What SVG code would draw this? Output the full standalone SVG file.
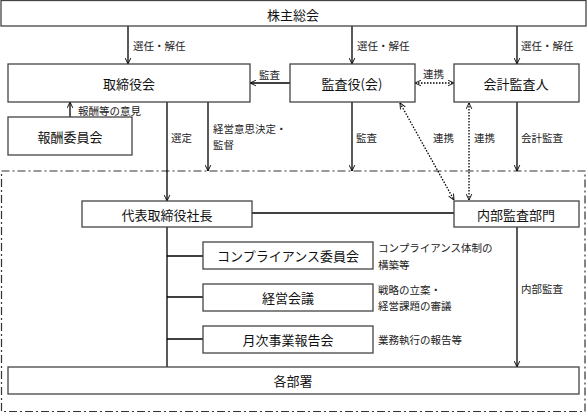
<svg xmlns="http://www.w3.org/2000/svg" width="587" height="413" viewBox="0 0 587 413">
<defs>
<marker id="ah" viewBox="0 0 10 10" refX="9.5" refY="5" markerWidth="7" markerHeight="7" orient="auto-start-reverse" markerUnits="userSpaceOnUse">
<path d="M1 1 L9.5 5 L1 9" fill="none" stroke="#000" stroke-width="1.3"/>
</marker>
</defs>
<style>
.box{fill:#fff;stroke:#444;stroke-width:1.3}
.t{font-family:"Noto Sans CJK JP","Noto Sans CJK SC",sans-serif;font-size:13px;fill:#111;text-anchor:middle;dominant-baseline:central}
.s{font-family:"Noto Sans CJK JP","Noto Sans CJK SC",sans-serif;font-size:10.5px;fill:#222;dominant-baseline:central}
.ln{stroke:#000;stroke-width:1.3;fill:none}
.dot{stroke:#000;stroke-width:1.3;fill:none;stroke-dasharray:1.5 1.5}
.bd{stroke:#333;stroke-width:1.2;fill:none;stroke-dasharray:8 3 2 3}
</style>
<rect class="bd" x="1.5" y="171" width="583.5" height="240.5"/>
<g id="connectors">
<line class="ln" x1="128" y1="26" x2="128" y2="64" marker-end="url(#ah)"/>
<line class="ln" x1="352" y1="26" x2="352" y2="64" marker-end="url(#ah)"/>
<line class="ln" x1="517" y1="26" x2="517" y2="64" marker-end="url(#ah)"/>
<line class="ln" x1="290" y1="83" x2="250" y2="83" marker-end="url(#ah)"/>
<line class="dot" x1="415" y1="83" x2="454" y2="83" marker-start="url(#ah)" marker-end="url(#ah)"/>
<line class="ln" x1="70" y1="117" x2="70" y2="102" marker-end="url(#ah)"/>
<line class="ln" x1="167" y1="102" x2="167" y2="201" marker-end="url(#ah)"/>
<line class="ln" x1="208" y1="102" x2="208" y2="171" marker-end="url(#ah)"/>
<line class="ln" x1="352" y1="102" x2="352" y2="171" marker-end="url(#ah)"/>
<line class="ln" x1="517" y1="102" x2="517" y2="171" marker-end="url(#ah)"/>
<line class="dot" x1="400" y1="103" x2="454" y2="200" marker-start="url(#ah)" marker-end="url(#ah)"/>
<line class="dot" x1="469" y1="103" x2="469" y2="200" marker-start="url(#ah)" marker-end="url(#ah)"/>
<line class="ln" x1="252" y1="213" x2="454" y2="213"/>
<line class="ln" x1="167" y1="227" x2="167" y2="367"/>
<line class="ln" x1="167" y1="256" x2="203" y2="256"/>
<line class="ln" x1="167" y1="297" x2="203" y2="297"/>
<line class="ln" x1="167" y1="339" x2="203" y2="339"/>
<line class="ln" x1="517" y1="227" x2="517" y2="367" marker-end="url(#ah)"/>
<text class="s" x="133" y="45">選任・解任</text>
<text class="s" x="357" y="45">選任・解任</text>
<text class="s" x="521" y="45">選任・解任</text>
<text class="s" x="259" y="74">監査</text>
<text class="s" x="423" y="73">連携</text>
<text class="s" x="78" y="110">報酬等の意見</text>
<text class="s" x="171" y="137">選定</text>
<text class="s" x="213" y="128">経営意思決定・</text>
<text class="s" x="213" y="144">監督</text>
<text class="s" x="356" y="137">監査</text>
<text class="s" x="433" y="137">連携</text>
<text class="s" x="474" y="137">連携</text>
<text class="s" x="521" y="137">会計監査</text>
<text class="s" x="521" y="288">内部監査</text>
<text class="s" x="378" y="247">コンプライアンス体制の</text>
<text class="s" x="378" y="264">構築等</text>
<text class="s" x="378" y="289">戦略の立案・</text>
<text class="s" x="378" y="305">経営課題の審議</text>
<text class="s" x="378" y="339">業務執行の報告等</text>
</g>
<g id="shareholders"><rect class="box" x="1" y="0.5" width="585" height="25.5"/><text class="t" x="293" y="14">株主総会</text></g>
<g id="board"><rect class="box" x="8" y="64" width="242" height="38"/><text class="t" x="129" y="83">取締役会</text></g>
<g id="auditors"><rect class="box" x="290" y="64" width="125" height="38"/><text class="t" x="352" y="83">監査役(会)</text></g>
<g id="accounting-auditor"><rect class="box" x="454" y="64" width="125" height="38"/><text class="t" x="516" y="83">会計監査人</text></g>
<g id="compensation"><rect class="box" x="8" y="117" width="124" height="38"/><text class="t" x="70" y="136">報酬委員会</text></g>
<g id="president"><rect class="box" x="82" y="201" width="170" height="26"/><text class="t" x="167" y="214">代表取締役社長</text></g>
<g id="internal-audit"><rect class="box" x="454" y="201" width="125" height="26"/><text class="t" x="516" y="214">内部監査部門</text></g>
<g id="compliance"><rect class="box" x="203" y="242" width="170" height="27"/><text class="t" x="288" y="255.5">コンプライアンス委員会</text></g>
<g id="management"><rect class="box" x="203" y="284" width="170" height="27"/><text class="t" x="288" y="297.5">経営会議</text></g>
<g id="monthly"><rect class="box" x="203" y="326" width="170" height="27"/><text class="t" x="288" y="339.5">月次事業報告会</text></g>
<g id="departments"><rect class="box" x="8" y="367" width="571" height="27"/><text class="t" x="293" y="380.5">各部署</text></g>
</svg>
